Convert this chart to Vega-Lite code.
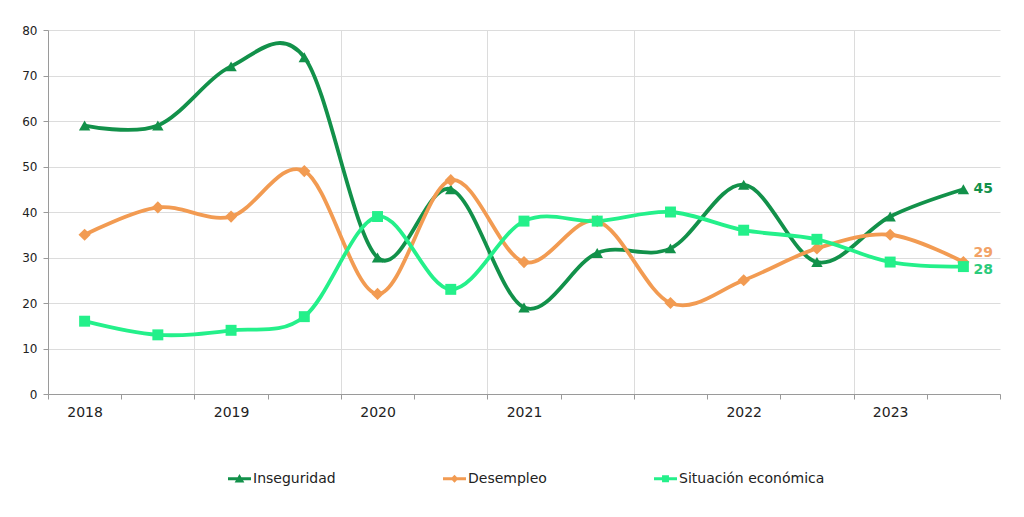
{
  "$schema": "https://vega.github.io/schema/vega-lite/v6.json",
  "width": 952,
  "height": 364,
  "autosize": "none",
  "padding": {"left": 48, "top": 30, "right": 24, "bottom": 123},
  "background": "white",
  "config": {
    "font": "DejaVu Sans",
    "view": {"stroke": null}
  },
  "data": {
    "values": [
      {"i": 0, "serie": "Inseguridad", "v": 59},
      {"i": 1, "serie": "Inseguridad", "v": 59},
      {"i": 2, "serie": "Inseguridad", "v": 72},
      {"i": 3, "serie": "Inseguridad", "v": 74},
      {"i": 4, "serie": "Inseguridad", "v": 30},
      {"i": 5, "serie": "Inseguridad", "v": 45},
      {"i": 6, "serie": "Inseguridad", "v": 19},
      {"i": 7, "serie": "Inseguridad", "v": 31},
      {"i": 8, "serie": "Inseguridad", "v": 32},
      {"i": 9, "serie": "Inseguridad", "v": 46},
      {"i": 10, "serie": "Inseguridad", "v": 29},
      {"i": 11, "serie": "Inseguridad", "v": 39},
      {"i": 12, "serie": "Inseguridad", "v": 45},
      {"i": 0, "serie": "Desempleo", "v": 35},
      {"i": 1, "serie": "Desempleo", "v": 41},
      {"i": 2, "serie": "Desempleo", "v": 39},
      {"i": 3, "serie": "Desempleo", "v": 49},
      {"i": 4, "serie": "Desempleo", "v": 22},
      {"i": 5, "serie": "Desempleo", "v": 47},
      {"i": 6, "serie": "Desempleo", "v": 29},
      {"i": 7, "serie": "Desempleo", "v": 38},
      {"i": 8, "serie": "Desempleo", "v": 20},
      {"i": 9, "serie": "Desempleo", "v": 25},
      {"i": 10, "serie": "Desempleo", "v": 32},
      {"i": 11, "serie": "Desempleo", "v": 35},
      {"i": 12, "serie": "Desempleo", "v": 29},
      {"i": 0, "serie": "Situación económica", "v": 16},
      {"i": 1, "serie": "Situación económica", "v": 13},
      {"i": 2, "serie": "Situación económica", "v": 14},
      {"i": 3, "serie": "Situación económica", "v": 17},
      {"i": 4, "serie": "Situación económica", "v": 39},
      {"i": 5, "serie": "Situación económica", "v": 23},
      {"i": 6, "serie": "Situación económica", "v": 38},
      {"i": 7, "serie": "Situación económica", "v": 38},
      {"i": 8, "serie": "Situación económica", "v": 40},
      {"i": 9, "serie": "Situación económica", "v": 36},
      {"i": 10, "serie": "Situación económica", "v": 34},
      {"i": 11, "serie": "Situación económica", "v": 29},
      {"i": 12, "serie": "Situación económica", "v": 28}
    ]
  },
  "encoding": {
    "x": {
      "field": "i",
      "type": "quantitative",
      "scale": {"domain": [-0.5, 12.5], "nice": false, "zero": false},
      "axis": {
        "title": null,
        "values": [-0.5, 0, 0.5, 1.5, 2, 2.5, 3.5, 4, 4.5, 5.5, 6, 6.5, 7.5, 8.5, 9, 9.5, 10.5, 11, 11.5, 12.5],
        "labelExpr": "datum.value === 0 ? '2018' : datum.value === 2 ? '2019' : datum.value === 4 ? '2020' : datum.value === 6 ? '2021' : datum.value === 9 ? '2022' : datum.value === 11 ? '2023' : ''",
        "labelOverlap": false,
        "labelFontSize": 14,
        "labelColor": "#222222",
        "labelPadding": 6,
        "labelFlush": false,
        "domainColor": "#9a9a9a",
        "tickColor": "#9a9a9a",
        "tickSize": 5,
        "tickOpacity": {"condition": {"test": "datum.value % 1 === 0", "value": 0}, "value": 1},
        "grid": true,
        "gridColor": "#dcdcdc",
        "gridOpacity": {"condition": {"test": "indexof([1.5, 3.5, 5.5, 7.5, 10.5], datum.value) >= 0", "value": 1}, "value": 0}
      }
    },
    "y": {
      "field": "v",
      "type": "quantitative",
      "scale": {"domain": [0, 80], "nice": false},
      "axis": {
        "title": null,
        "values": [0, 10, 20, 30, 40, 50, 60, 70, 80],
        "labelFontSize": 12,
        "labelColor": "#222222",
        "labelPadding": 6,
        "domainColor": "#9a9a9a",
        "tickColor": "#9a9a9a",
        "tickSize": 5,
        "gridColor": "#dcdcdc"
      }
    }
  },
  "layer": [
    {
      "mark": {"type": "line", "interpolate": "cardinal", "strokeWidth": 3.8},
      "encoding": {
        "color": {
          "field": "serie",
          "type": "nominal",
          "scale": {
            "domain": ["Inseguridad", "Desempleo", "Situación económica"],
            "range": ["#12914a", "#f29b52", "#24f08a"]
          },
          "legend": {
            "title": null,
            "orient": "none",
            "legendX": 180,
            "legendY": 437,
            "direction": "horizontal",
            "columns": 3,
            "columnPadding": 107,
            "labelFontSize": 14,
            "labelColor": "#222222",
            "labelOffset": 2,
            "symbolSize": 529,
            "symbolStrokeWidth": 0,
            "encode": {
              "symbols": {
                "update": {
                  "shape": {"signal": "datum.value === 'Inseguridad' ? 'M-1,-0.12H1V0.12H-1Z M0,-0.42L0.42,0.32H-0.42Z' : datum.value === 'Desempleo' ? 'M-1,-0.12H1V0.12H-1Z M0,-0.34L0.34,0L0,0.34L-0.34,0Z' : 'M-1,-0.12H1V0.12H-1Z M-0.3,-0.3H0.3V0.3H-0.3Z'"},
                  "fill": {"scale": "color", "field": "value"},
                  "strokeWidth": {"value": 0}
                }
              }
            }
          }
        }
      }
    },
    {
      "transform": [{"filter": "datum.serie === 'Inseguridad'"}],
      "mark": {"type": "point", "filled": true, "opacity": 1, "shape": "triangle-up", "size": 130},
      "encoding": {"color": {"field": "serie", "type": "nominal", "legend": null}}
    },
    {
      "transform": [{"filter": "datum.serie === 'Desempleo'"}],
      "mark": {"type": "point", "filled": true, "opacity": 1, "shape": "diamond", "size": 150},
      "encoding": {"color": {"field": "serie", "type": "nominal", "legend": null}}
    },
    {
      "transform": [{"filter": "datum.serie === 'Situación económica'"}],
      "mark": {"type": "point", "filled": true, "opacity": 1, "shape": "square", "size": 120},
      "encoding": {"color": {"field": "serie", "type": "nominal", "legend": null}}
    },
    {
      "transform": [{"filter": "datum.i === 12 && datum.serie === 'Inseguridad'"}],
      "mark": {"type": "text", "align": "left", "dx": 10, "dy": 0, "fontSize": 14, "fontWeight": "bold", "color": "#12914a"},
      "encoding": {"text": {"field": "v", "type": "quantitative"}}
    },
    {
      "transform": [{"filter": "datum.i === 12 && datum.serie === 'Desempleo'"}],
      "mark": {"type": "text", "align": "left", "dx": 10, "dy": -9, "fontSize": 14, "fontWeight": "bold", "color": "#f2a266"},
      "encoding": {"text": {"field": "v", "type": "quantitative"}}
    },
    {
      "transform": [{"filter": "datum.i === 12 && datum.serie === 'Situación económica'"}],
      "mark": {"type": "text", "align": "left", "dx": 10, "dy": 3, "fontSize": 14, "fontWeight": "bold", "color": "#2ccb7c"},
      "encoding": {"text": {"field": "v", "type": "quantitative"}}
    }
  ]
}
